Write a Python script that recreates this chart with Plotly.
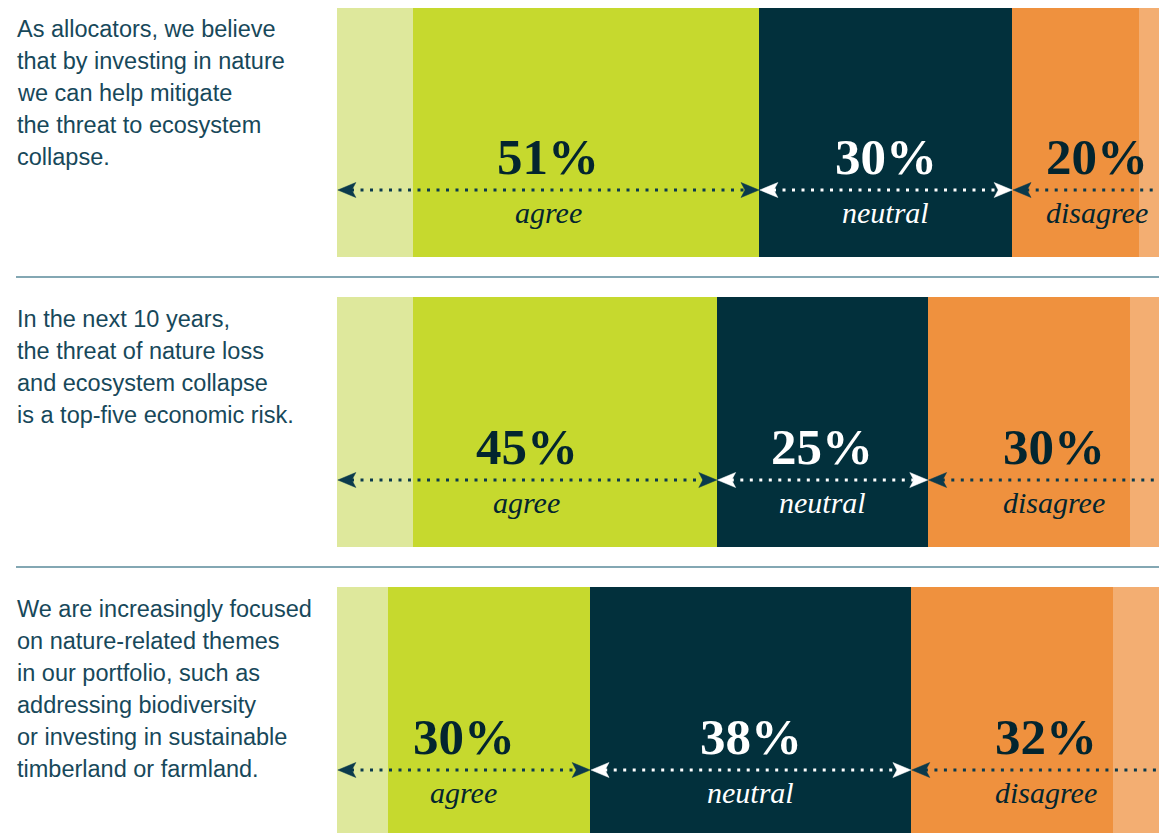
import plotly.graph_objects as go

# ---------------- data ----------------
questions = [
    ["As allocators, we believe", "that by investing in nature", "we can help mitigate",
     "the threat to ecosystem", "collapse."],
    ["In the next 10 years,", "the threat of nature loss", "and ecosystem collapse",
     "is a top-five economic risk."],
    ["We are increasingly focused", "on nature-related themes", "in our portfolio, such as",
     "addressing biodiversity", "or investing in sustainable", "timberland or farmland."],
]
strongly_agree = [9, 9, 6]
agree = [41, 36, 24]
neutral = [30, 25, 38]
disagree = [15, 24, 24]
strongly_disagree = [5, 6, 8]
agree_labels = ["51%", "45%", "30%"]
neutral_labels = ["30%", "25%", "38%"]
disagree_labels = ["20%", "30%", "32%"]

# ---------------- styling ----------------
W, H = 1167, 833
OFF = 8            # page body margin compensation
PLOT_LEFT = 337 - OFF
SX = 8.44          # px per percentage point
SY = 290           # px per row
BAR_PX = 250
ROW0_CENTER = 132 - OFF
LINE_GAP = 32

C_SA = "#dee89c"
C_A = "#c6d92e"
C_N = "#02303c"
C_D = "#ef913e"
C_SD = "#f3ae72"
DARK = "#0b3a4c"
NUM_DARK = "#03252f"
TXT = "#17485a"

rows = list(range(len(questions)))
bar_w = BAR_PX / SY
x_max = (W - PLOT_LEFT) / SX
y_top = -ROW0_CENTER / SY
y_bot = (H - ROW0_CENTER) / SY

fig = go.Figure()
for vals, col, name in [
    (strongly_agree, C_SA, "strongly agree"),
    (agree, C_A, "agree"),
    (neutral, C_N, "neutral"),
    (disagree, C_D, "disagree"),
    (strongly_disagree, C_SD, "strongly disagree"),
]:
    fig.add_trace(go.Bar(
        x=vals, y=rows, orientation="h", width=bar_w, name=name,
        marker=dict(color=col, line=dict(width=0)), hoverinfo="skip",
    ))

# arrows
ARROW_OFF = 183 / SY   # from bar top
NUM_OFF = 150 / SY
LAB_OFF = 205 / SY
L_PX, H_PX, N_PX = 18, 7.5, 4

def head(xt, y, d):
    # d = -1 pointing left, +1 pointing right
    xb = xt - d * L_PX / SX
    xn = xt - d * (L_PX - N_PX) / SX
    return [xt, xb, xn, xb, xt, None], [y, y - H_PX / SY, y, y + H_PX / SY, y, None]

line_style = {DARK: ([], []), "white": ([], [])}
head_style = {DARK: ([], []), "white": ([], [])}

annotations = []
for r in rows:
    top = r - bar_w / 2
    ya = top + ARROW_OFF
    a_end = strongly_agree[r] + agree[r]
    n_end = a_end + neutral[r]
    d_end = n_end + disagree[r] + strongly_disagree[r]
    spans = [
        (0, a_end, DARK, NUM_DARK, agree_labels[r], "agree"),
        (a_end, n_end, "white", "white", neutral_labels[r], "neutral"),
        (n_end, d_end, DARK, NUM_DARK, disagree_labels[r], "disagree"),
    ]
    for x0, x1, acol, tcol, num, lab in spans:
        lx, ly = line_style[acol]
        lx += [x0 + (L_PX - N_PX) / SX, x1 - (L_PX - N_PX) / SX, None]
        ly += [ya, ya, None]
        hx, hy = head_style[acol]
        for xt, d in [(x0 + 0.1, -1), (x1, 1)]:
            px_, py_ = head(xt, ya, d)
            hx += px_
            hy += py_
        xm = (x0 + x1) / 2
        annotations.append(dict(
            x=xm, y=top + NUM_OFF, xref="x", yref="y", text="<b>" + num + "</b>",
            showarrow=False, xanchor="center", yanchor="middle",
            font=dict(family="Liberation Serif, Times New Roman, serif", size=51, color=tcol),
        ))
        annotations.append(dict(
            x=xm, y=top + LAB_OFF, xref="x", yref="y", text="<i>" + lab + "</i>",
            showarrow=False, xanchor="center", yanchor="middle",
            font=dict(family="Liberation Serif, Times New Roman, serif", size=30, color=tcol),
        ))
    top_px = (top - y_top) * SY
    for i, line in enumerate(questions[r]):
        annotations.append(dict(
            x=(15 - OFF) / W, y=1 - top_px / H, xref="paper", yref="paper", text=line,
            showarrow=False, xanchor="left", yanchor="top", align="left",
            yshift=-7 - LINE_GAP * i,
            font=dict(family="Liberation Sans, Arial, sans-serif", size=23.5, color=TXT),
        ))

for col in [DARK, "white"]:
    lx, ly = line_style[col]
    fig.add_trace(go.Scatter(
        x=lx, y=ly, mode="lines", line=dict(color=col, width=3, dash="3px,6.5px"),
        hoverinfo="skip", showlegend=False,
    ))
    hx, hy = head_style[col]
    fig.add_trace(go.Scatter(
        x=hx, y=hy, mode="lines", fill="toself", fillcolor=col,
        line=dict(color=col, width=0.5), hoverinfo="skip", showlegend=False,
    ))

shapes = []
for r in rows[:-1]:
    shapes.append(dict(
        type="line", xref="paper", yref="y", x0=(16 - OFF) / W, x1=1, y0=r + 0.5, y1=r + 0.5,
        line=dict(color="#5a8a9a", width=1.5),
    ))

fig.update_layout(
    width=W, height=H, barmode="stack", showlegend=False,
    margin=dict(l=0, r=0, t=0, b=0),
    paper_bgcolor="white", plot_bgcolor="white",
    xaxis=dict(domain=[PLOT_LEFT / W, 1], range=[0, x_max], visible=False, fixedrange=True),
    yaxis=dict(range=[y_bot, y_top], visible=False, fixedrange=True),
    annotations=annotations, shapes=shapes,
)

fig.write_html("out.html")
